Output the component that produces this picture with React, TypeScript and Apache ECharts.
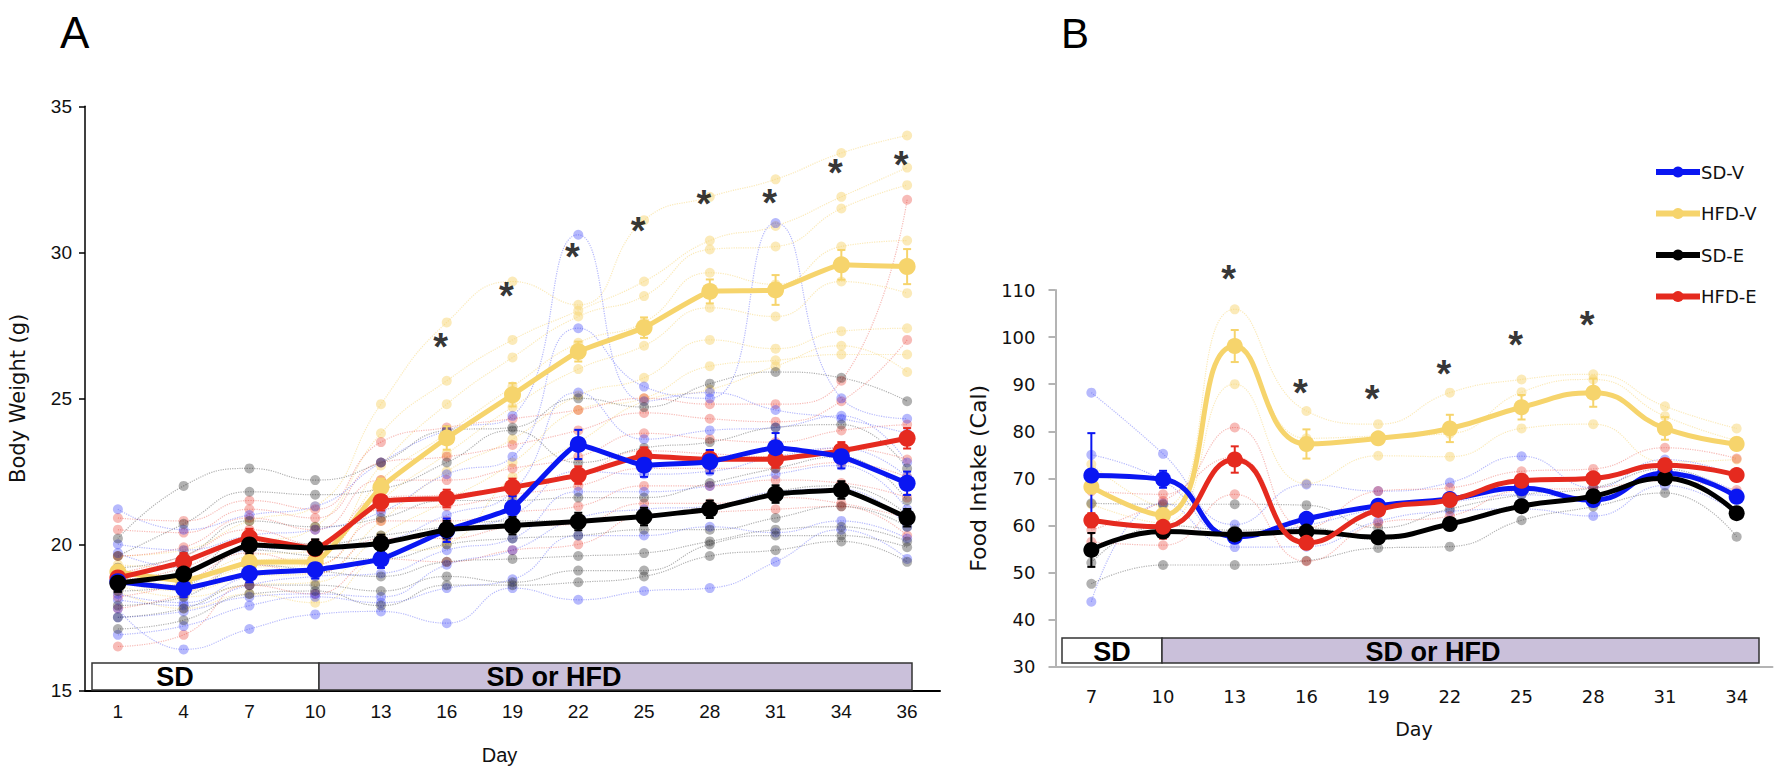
import React, { useEffect, useRef } from "react";
import * as echarts from "echarts";

// ---------------- DATA ----------------
const daysA = ["1", "4", "7", "10", "13", "16", "19", "22", "25", "28", "31", "34", "36"];
const daysB = ["7", "10", "13", "16", "19", "22", "25", "28", "31", "34"];
const groups = ["SD-V", "HFD-V", "SD-E", "HFD-E"];

// Panel A: body weight (g), group means and SEM
const bwMeanSDV = [18.72, 18.49, 19.0, 19.13, 19.49, 20.48, 21.25, 23.42, 22.71, 22.83, 23.31, 23.0, 22.09];
const bwMeanHFDV = [19.05, 18.75, 19.38, 19.4, 21.95, 23.64, 25.12, 26.6, 27.42, 28.66, 28.71, 29.57, 29.51];
const bwMeanSDE = [18.67, 18.98, 19.98, 19.87, 20.03, 20.5, 20.64, 20.78, 20.95, 21.2, 21.72, 21.86, 20.91];
const bwMeanHFDE = [18.85, 19.4, 20.23, 19.85, 21.46, 21.57, 21.95, 22.37, 23.02, 22.91, 22.92, 23.2, 23.63];
const bwSemSDV = [0.3, 0.3, 0.3, 0.3, 0.3, 0.4, 0.4, 0.5, 0.4, 0.4, 0.5, 0.4, 0.4];
const bwSemHFDV = [0.2, 0.2, 0.2, 0.2, 0.3, 0.4, 0.4, 0.34, 0.35, 0.41, 0.51, 0.51, 0.6];
const bwSemSDE = [0.3, 0.3, 0.3, 0.3, 0.3, 0.3, 0.3, 0.3, 0.3, 0.3, 0.3, 0.3, 0.3];
const bwSemHFDE = [0.3, 0.3, 0.3, 0.3, 0.3, 0.3, 0.3, 0.3, 0.3, 0.3, 0.3, 0.3, 0.35];

// Panel A: individual mice (estimated from the faint dots)
const bwMiceSDV = [
  [21.2, 20.5, 21.0, 21.3, 22.8, 23.9, 24.4, 30.6, 24.9, 25.2, 24.6, 24.3, 23.8],
  [20.0, 19.8, 20.3, 20.5, 21.1, 22.4, 23.0, 27.4, 25.4, 25.0, 31.0, 25.0, 24.3],
  [19.7, 19.2, 19.8, 19.9, 20.1, 21.0, 21.8, 25.2, 23.6, 23.9, 24.0, 24.4, 22.8],
  [18.3, 18.0, 18.9, 19.1, 19.5, 20.4, 21.0, 22.5, 22.4, 22.5, 23.0, 23.3, 22.3],
  [18.1, 17.9, 18.6, 18.9, 19.0, 19.8, 20.2, 21.8, 21.8, 22.0, 22.4, 22.7, 21.2],
  [17.5, 17.7, 18.2, 18.3, 18.2, 19.3, 19.8, 20.9, 21.2, 21.3, 21.8, 21.9, 20.6],
  [16.9, 17.2, 17.9, 18.2, 18.0, 18.5, 18.8, 20.3, 20.3, 20.6, 20.4, 20.8, 20.2],
  [17.8, 16.4, 17.1, 17.6, 17.7, 17.3, 18.5, 18.1, 18.4, 18.5, 19.4, 20.5, 19.5],
];
const bwMiceHFDV = [
  [19.6, 19.8, 20.8, 21.3, 24.8, 27.6, 29.0, 28.2, 31.1, 31.9, 32.5, 33.4, 34.0],
  [19.3, 19.2, 20.0, 20.6, 23.8, 25.6, 27.0, 28.0, 29.0, 30.4, 30.9, 31.9, 32.9],
  [19.1, 18.9, 19.6, 19.8, 22.7, 24.8, 26.4, 27.8, 28.5, 30.1, 30.2, 31.5, 32.3],
  [19.0, 18.8, 19.4, 19.6, 22.2, 23.8, 25.4, 26.9, 27.6, 29.3, 28.9, 30.2, 30.4],
  [18.9, 18.6, 19.2, 19.3, 21.5, 23.1, 24.7, 26.0, 26.8, 28.1, 27.8, 29.0, 28.6],
  [18.7, 18.4, 18.9, 19.0, 20.8, 22.5, 23.6, 25.1, 25.7, 27.0, 26.7, 27.3, 27.4],
  [18.6, 18.2, 18.6, 18.7, 20.3, 21.5, 22.8, 24.6, 25.0, 26.1, 26.3, 26.5, 26.5],
  [18.4, 17.8, 18.3, 18.0, 19.6, 20.0, 22.3, 23.5, 24.9, 25.3, 26.1, 26.8, 25.9],
];
const bwMiceSDE = [
  [20.2, 22.0, 22.6, 22.2, 22.8, 23.9, 24.0, 25.0, 24.7, 25.5, 25.9, 25.7, 24.9],
  [19.6, 20.7, 21.8, 21.7, 21.9, 22.8, 23.9, 22.8, 23.3, 23.5, 24.0, 24.1, 22.6],
  [19.2, 19.6, 20.8, 20.6, 20.9, 21.5, 21.5, 21.6, 21.6, 22.1, 22.6, 23.0, 21.5],
  [18.8, 19.0, 20.2, 20.0, 20.3, 20.6, 20.8, 20.8, 21.0, 21.2, 21.8, 22.0, 21.0],
  [18.4, 18.6, 19.8, 19.6, 19.5, 20.0, 20.2, 20.3, 20.5, 20.5, 20.9, 21.3, 20.6],
  [17.9, 18.2, 19.3, 19.1, 18.9, 19.4, 19.5, 19.6, 19.7, 20.1, 20.5, 20.6, 20.1],
  [17.5, 17.8, 18.6, 18.6, 18.4, 18.9, 18.7, 19.1, 19.1, 20.0, 20.3, 20.3, 19.9],
  [17.1, 17.4, 18.3, 18.4, 17.9, 18.6, 18.6, 18.7, 18.9, 19.6, 19.8, 20.1, 19.4],
];
const bwMiceHFDE = [
  [20.9, 20.8, 21.5, 21.2, 23.5, 24.0, 24.3, 24.6, 25.0, 24.8, 24.8, 25.6, 31.8],
  [20.5, 20.4, 21.2, 20.9, 22.8, 23.0, 23.4, 23.9, 24.5, 24.3, 24.2, 24.9, 27.0],
  [19.6, 19.9, 20.9, 20.5, 22.2, 22.2, 22.6, 23.0, 23.8, 23.6, 23.5, 23.9, 24.1],
  [19.0, 19.6, 20.5, 20.0, 21.6, 21.7, 22.0, 22.4, 23.2, 23.1, 23.0, 23.3, 22.9],
  [18.7, 19.2, 20.1, 19.8, 21.2, 21.3, 21.7, 22.0, 22.6, 22.6, 22.6, 22.8, 22.3],
  [18.2, 18.7, 19.7, 19.3, 20.8, 20.8, 21.1, 21.3, 22.0, 22.0, 22.2, 22.1, 21.6],
  [17.8, 18.3, 19.3, 19.0, 20.2, 20.2, 20.6, 20.7, 21.4, 21.4, 21.6, 21.4, 20.9],
  [16.5, 16.9, 18.6, 18.3, 19.5, 19.4, 19.8, 20.0, 21.0, 21.1, 21.2, 21.3, 20.3],
];
const bwStarDays = ["16", "19", "22", "25", "28", "31", "34", "36"];
const bwStarValues = [27.1, 28.85, 30.19, 31.07, 32.0, 32.02, 33.07, 33.33];

// Panel B: food intake (Cal), group means and SEM
const fiMeanSDV = [70.6, 69.8, 57.6, 61.4, 64.2, 65.6, 67.9, 65.4, 71.1, 66.1];
const fiMeanHFDV = [68.2, 62.2, 98.1, 77.3, 78.5, 80.6, 85.1, 88.2, 80.6, 77.3];
const fiMeanSDE = [54.8, 58.7, 58.1, 58.7, 57.5, 60.3, 64.1, 66.2, 70.0, 62.6];
const fiMeanHFDE = [61.1, 59.7, 74.0, 56.3, 63.3, 65.4, 69.5, 70.0, 72.8, 70.7];
const fiSemSDV = [9.0, 1.8, 1.0, 1.0, 1.0, 1.0, 1.0, 1.0, 1.0, 1.0];
const fiSemHFDV = [1.0, 1.0, 3.4, 3.1, 1.0, 2.9, 2.6, 3.0, 2.4, 1.2];
const fiSemSDE = [3.6, 1.0, 1.0, 1.0, 1.0, 1.0, 1.0, 1.0, 1.0, 1.0];
const fiSemHFDE = [1.5, 2.5, 2.8, 1.0, 1.0, 1.0, 1.0, 1.0, 1.0, 1.0];

// Panel B: individual cages
const fiCagesSDV = [
  [88.2, 75.2, 60.2, 68.7, 67.3, 69.1, 74.7, 68.0, 74.0, 70.5],
  [75.0, 69.5, 57.5, 60.0, 63.5, 65.0, 66.5, 66.0, 71.5, 67.0],
  [43.8, 64.7, 55.4, 55.5, 60.9, 63.0, 63.5, 62.0, 68.5, 62.5],
];
const fiCagesHFDV = [
  [73.0, 64.0, 105.9, 84.3, 81.5, 88.2, 91.0, 92.1, 85.3, 80.6],
  [68.0, 62.5, 98.5, 78.5, 79.0, 79.5, 88.3, 91.0, 83.2, 78.0],
  [64.5, 60.5, 90.0, 68.9, 74.8, 74.6, 80.6, 81.5, 73.5, 74.0],
];
const fiCagesSDE = [
  [64.7, 64.5, 64.5, 64.3, 59.5, 63.5, 66.5, 68.0, 72.0, 66.0],
  [52.1, 60.0, 59.0, 59.5, 57.0, 60.5, 64.5, 66.0, 70.0, 63.0],
  [47.6, 51.6, 51.6, 52.5, 55.2, 55.5, 61.1, 64.0, 66.9, 57.6],
];
const fiCagesHFDE = [
  [67.3, 66.6, 80.8, 59.5, 67.3, 68.0, 71.5, 72.0, 76.5, 74.2],
  [59.0, 65.2, 74.5, 56.5, 63.5, 65.5, 69.5, 70.0, 72.5, 71.0],
  [56.5, 55.8, 66.6, 52.4, 60.5, 62.0, 67.5, 68.0, 69.5, 67.5],
];
const fiStarDays = ["13", "16", "19", "22", "25", "28"];
const fiStarValues = [114.4, 90.2, 89.0, 94.2, 100.4, 104.7];

// ---------------- STYLE ----------------
const COLOR: Record<string, string> = {
  "SD-V": "#0a16f2",
  "HFD-V": "#f6d46c",
  "SD-E": "#000000",
  "HFD-E": "#e52a1f",
};
const FAINT: Record<string, string> = {
  "SD-V": "rgba(40,50,245,0.34)",
  "HFD-V": "rgba(246,212,108,0.48)",
  "SD-E": "rgba(40,40,40,0.36)",
  "HFD-E": "rgba(229,42,31,0.32)",
};
const ARIAL = "'Liberation Sans', Arial, Helvetica, sans-serif";
const VERD = "'DejaVu Sans', Verdana, Tahoma, sans-serif";
const PURPLE = "#cac0da";

function individualSeries(name: string, rows: number[][], ax: number) {
  return rows.map((row, i) => ({
    name: `${name} #${i + 1} (${ax === 0 ? "A" : "B"})`,
    type: "line",
    xAxisIndex: ax,
    yAxisIndex: ax,
    data: row,
    smooth: 0.5,
    symbol: "circle",
    symbolSize: 10,
    showSymbol: true,
    silent: true,
    itemStyle: { color: FAINT[name] },
    lineStyle: { color: FAINT[name], width: 1.2, type: "dotted" },
    z: 1,
  }));
}

function errorSeries(name: string, mean: number[], sem: number[], ax: number, z: number) {
  const color = COLOR[name];
  return {
    name: `${name} SEM ${ax === 0 ? "A" : "B"}`,
    type: "custom",
    xAxisIndex: ax,
    yAxisIndex: ax,
    silent: true,
    z,
    encode: { x: 0, y: [1, 2] },
    data: mean.map((m, i) => [i, m - sem[i], m + sem[i]]),
    renderItem: (_params: any, api: any) => {
      const x = api.value(0);
      const lo = api.coord([x, api.value(1)]);
      const hi = api.coord([x, api.value(2)]);
      const cw = 4;
      const st = { stroke: color, lineWidth: 2 };
      return {
        type: "group",
        children: [
          { type: "line", shape: { x1: lo[0], y1: lo[1], x2: hi[0], y2: hi[1] }, style: st },
          { type: "line", shape: { x1: hi[0] - cw, y1: hi[1], x2: hi[0] + cw, y2: hi[1] }, style: st },
          { type: "line", shape: { x1: lo[0] - cw, y1: lo[1], x2: lo[0] + cw, y2: lo[1] }, style: st },
        ],
      };
    },
  };
}

function meanSeries(name: string, data: number[], ax: number, z: number) {
  return {
    name,
    type: "line",
    xAxisIndex: ax,
    yAxisIndex: ax,
    data,
    smooth: ax === 0 ? 0.12 : 0.5,
    symbol: "circle",
    symbolSize: ax === 0 ? 17 : 16,
    showSymbol: true,
    itemStyle: { color: COLOR[name] },
    lineStyle: { color: COLOR[name], width: 5 },
    z,
  };
}

function starSeries(days: string[], values: number[], ax: number) {
  return {
    name: `significance ${ax === 0 ? "A" : "B"}`,
    type: "scatter",
    xAxisIndex: ax,
    yAxisIndex: ax,
    data: days.map((d, i) => [d, values[i]]),
    symbolSize: 1,
    clip: false,
    silent: true,
    itemStyle: { color: "rgba(0,0,0,0)" },
    label: {
      show: true,
      position: "inside",
      formatter: "*",
      fontSize: 38,
      fontWeight: "bold",
      fontFamily: ARIAL,
      color: "#000",
      offset: [-6, 10],
    },
    z: 10,
  };
}

export default function App() {
  const ref = useRef<HTMLDivElement>(null);

  useEffect(() => {
    if (!ref.current) return;
    const chart = echarts.init(ref.current, undefined, { renderer: "svg" });

    const series: any[] = [];
    // Panel A
    series.push(...individualSeries("HFD-V", bwMiceHFDV, 0));
    series.push(...individualSeries("HFD-E", bwMiceHFDE, 0));
    series.push(...individualSeries("SD-V", bwMiceSDV, 0));
    series.push(...individualSeries("SD-E", bwMiceSDE, 0));
    series.push(errorSeries("HFD-V", bwMeanHFDV, bwSemHFDV, 0, 3));
    series.push(errorSeries("HFD-E", bwMeanHFDE, bwSemHFDE, 0, 3));
    series.push(errorSeries("SD-V", bwMeanSDV, bwSemSDV, 0, 3));
    series.push(errorSeries("SD-E", bwMeanSDE, bwSemSDE, 0, 3));
    // Panel B
    series.push(...individualSeries("HFD-V", fiCagesHFDV, 1));
    series.push(...individualSeries("SD-V", fiCagesSDV, 1));
    series.push(...individualSeries("SD-E", fiCagesSDE, 1));
    series.push(...individualSeries("HFD-E", fiCagesHFDE, 1));
    series.push(errorSeries("HFD-V", fiMeanHFDV, fiSemHFDV, 1, 3));
    series.push(errorSeries("SD-V", fiMeanSDV, fiSemSDV, 1, 3));
    series.push(errorSeries("SD-E", fiMeanSDE, fiSemSDE, 1, 3));
    series.push(errorSeries("HFD-E", fiMeanHFDE, fiSemHFDE, 1, 3));
    // means: B first (legend takes its icon from these)
    series.push(meanSeries("HFD-V", fiMeanHFDV, 1, 4));
    series.push(meanSeries("SD-V", fiMeanSDV, 1, 5));
    series.push(meanSeries("SD-E", fiMeanSDE, 1, 6));
    series.push(meanSeries("HFD-E", fiMeanHFDE, 1, 7));
    series.push(meanSeries("HFD-V", bwMeanHFDV, 0, 4));
    series.push(meanSeries("HFD-E", bwMeanHFDE, 0, 5));
    series.push(meanSeries("SD-V", bwMeanSDV, 0, 6));
    series.push(meanSeries("SD-E", bwMeanSDE, 0, 7));
    series.push(starSeries(bwStarDays, bwStarValues, 0));
    series.push(starSeries(fiStarDays, fiStarValues, 1));

    const option: any = {
      animation: false,
      backgroundColor: "#ffffff",
      grid: [
        { left: 85, top: 106.3, width: 855, height: 584, containLabel: false },
        { left: 1055.5, top: 290, width: 717, height: 376.7, containLabel: false },
      ],
      legend: {
        data: groups,
        orient: "vertical",
        left: 1653,
        top: 163,
        padding: 0,
        itemWidth: 44,
        itemHeight: 14,
        itemGap: 23.5,
        selectedMode: false,
        lineStyle: { width: 6 },
        textStyle: { fontFamily: VERD, fontSize: 18, color: "#111", padding: [0, 0, 0, -4] },
      },
      xAxis: [
        {
          type: "category",
          gridIndex: 0,
          data: daysA,
          boundaryGap: true,
          axisLine: { lineStyle: { color: "#000", width: 2 } },
          axisTick: { show: false },
          axisLabel: { fontFamily: ARIAL, fontSize: 19, color: "#111", margin: 12 },
          name: "Day",
          nameLocation: "middle",
          nameGap: 55,
          nameTextStyle: { fontFamily: ARIAL, fontSize: 20, color: "#111", padding: [0, 26, 0, 0] },
        },
        {
          type: "category",
          gridIndex: 1,
          data: daysB,
          boundaryGap: true,
          axisLine: { lineStyle: { color: "#b4b4b4", width: 2 } },
          axisTick: { show: false },
          axisLabel: { fontFamily: VERD, fontSize: 18, color: "#111", margin: 21 },
          name: "Day",
          nameLocation: "middle",
          nameGap: 53,
          nameTextStyle: { fontFamily: VERD, fontSize: 19, color: "#111" },
        },
      ],
      yAxis: [
        {
          type: "value",
          gridIndex: 0,
          min: 15,
          max: 35,
          interval: 5,
          splitLine: { show: false },
          axisLine: { show: true, lineStyle: { color: "#000", width: 1.5 } },
          axisTick: { show: true, length: 6, lineStyle: { color: "#000", width: 1.5 } },
          axisLabel: { fontFamily: ARIAL, fontSize: 19, color: "#111", margin: 13 },
          name: "Body Weight (g)",
          nameLocation: "middle",
          nameRotate: 90,
          nameGap: 57,
          nameTextStyle: { fontFamily: VERD, fontSize: 21, color: "#111" },
        },
        {
          type: "value",
          gridIndex: 1,
          min: 30,
          max: 110,
          interval: 10,
          splitLine: { show: false },
          axisLine: { show: true, lineStyle: { color: "#b4b4b4", width: 2 } },
          axisTick: { show: true, length: 7, lineStyle: { color: "#b4b4b4", width: 2 } },
          axisLabel: { fontFamily: VERD, fontSize: 18, color: "#111", margin: 20 },
          name: "Food Intake (Cal)",
          nameLocation: "middle",
          nameRotate: 90,
          nameGap: 66,
          nameTextStyle: { fontFamily: VERD, fontSize: 22, color: "#111" },
        },
      ],
      graphic: [
        { type: "text", left: 60, top: 10, style: { text: "A", font: `44px ${ARIAL}`, fill: "#000" } },
        { type: "text", left: 1061, top: 12, style: { text: "B", font: `42px ${ARIAL}`, fill: "#000" } },
        // Diet bar, panel A
        { type: "rect", shape: { x: 92, y: 663, width: 227, height: 27 }, style: { fill: "#ffffff", stroke: "#333", lineWidth: 1.5 }, z: 20 },
        { type: "rect", shape: { x: 319, y: 663, width: 593, height: 27 }, style: { fill: PURPLE, stroke: "#333", lineWidth: 1.5 }, z: 20 },
        { type: "text", x: 175, y: 677, style: { text: "SD", font: `bold 27px ${ARIAL}`, fill: "#000", textAlign: "center", textVerticalAlign: "middle" }, z: 21 },
        { type: "text", x: 554, y: 677, style: { text: "SD or HFD", font: `bold 27px ${ARIAL}`, fill: "#000", textAlign: "center", textVerticalAlign: "middle" }, z: 21 },
        // Diet bar, panel B
        { type: "rect", shape: { x: 1062, y: 638, width: 100, height: 25 }, style: { fill: "#ffffff", stroke: "#333", lineWidth: 1.5 }, z: 20 },
        { type: "rect", shape: { x: 1162, y: 638, width: 597, height: 25 }, style: { fill: PURPLE, stroke: "#333", lineWidth: 1.5 }, z: 20 },
        { type: "text", x: 1112, y: 652, style: { text: "SD", font: `bold 27px ${ARIAL}`, fill: "#000", textAlign: "center", textVerticalAlign: "middle" }, z: 21 },
        { type: "text", x: 1433, y: 652, style: { text: "SD or HFD", font: `bold 27px ${ARIAL}`, fill: "#000", textAlign: "center", textVerticalAlign: "middle" }, z: 21 },
      ],
      series,
    };

    chart.setOption(option);
    return () => chart.dispose();
  }, []);

  return (
    <div
      ref={ref}
      style={{ position: "fixed", left: 0, top: 0, width: 1775, height: 776, background: "#fff" }}
    />
  );
}
